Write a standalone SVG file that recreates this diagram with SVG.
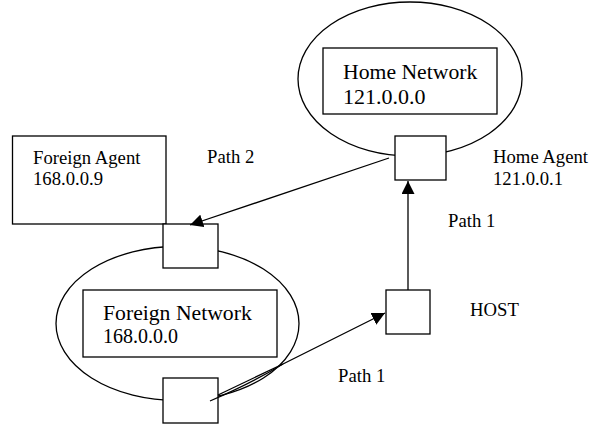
<svg xmlns="http://www.w3.org/2000/svg" width="597" height="424" viewBox="0 0 597 424">
<style>
  .shape { fill: #ffffff; stroke: #000000; stroke-width: 1.3; }
  .line { fill: none; stroke: #000000; stroke-width: 1.3; }
  text { font-family: "Liberation Serif", "Times New Roman", serif; fill: #000000; }
  .big { font-size: 21.7px; }
  .small { font-size: 18.7px; }
</style>
<defs>
  <marker id="arrowL" viewBox="0 0 13 13" refX="13" refY="6.5" markerWidth="13" markerHeight="13" markerUnits="userSpaceOnUse" orient="auto">
    <path d="M0,0 L13,6.5 L0,13 Z" fill="#000000"/>
  </marker>
</defs>

<g id="home-network">
  <ellipse class="shape" cx="410" cy="79" rx="112" ry="77"/>
  <rect class="shape" x="323" y="48" width="174" height="66"/>
  <text class="big" x="343" y="79">Home Network</text>
  <text class="big" x="343" y="104" style="font-size:22px">121.0.0.0</text>
</g>

<g id="foreign-network">
  <ellipse class="shape" cx="177.5" cy="323.5" rx="121.5" ry="77"/>
  <rect class="shape" x="83" y="290" width="194" height="67"/>
  <text class="big" x="103" y="320">Foreign Network</text>
  <text class="big" x="103" y="343" style="font-size:20px">168.0.0.0</text>
</g>

<g id="foreign-agent">
  <rect class="shape" x="12.5" y="136" width="153.5" height="88"/>
  <text class="small" x="33" y="164">Foreign Agent</text>
  <text class="small" x="33" y="185">168.0.0.9</text>
</g>

<g id="home-agent">
  <rect class="shape" x="395" y="136" width="51" height="44"/>
  <text class="small" x="493" y="163">Home Agent</text>
  <text class="small" x="493" y="185">121.0.0.1</text>
</g>

<g id="fa-port">
  <rect class="shape" x="163" y="224" width="55" height="44"/>
</g>

<g id="mobile-node">
  <rect class="shape" x="163" y="378" width="55" height="45"/>
</g>

<g id="host">
  <rect class="shape" x="386" y="290" width="44" height="44"/>
  <text class="small" x="470" y="316">HOST</text>
</g>

<g id="connectors">
  <line class="line" x1="389" y1="158" x2="190" y2="225" marker-end="url(#arrowL)"/>
  <line class="line" x1="408" y1="290" x2="408" y2="181" marker-end="url(#arrowL)"/>
  <path class="line" d="M210,401 Q252,383 283,364 L385,313" marker-end="url(#arrowL)"/>
  <path class="line" d="M218,395 L283,364"/>
  <text class="small" x="207" y="163">Path 2</text>
  <text class="small" x="448" y="227">Path 1</text>
  <text class="small" x="338" y="382">Path 1</text>
</g>
</svg>
